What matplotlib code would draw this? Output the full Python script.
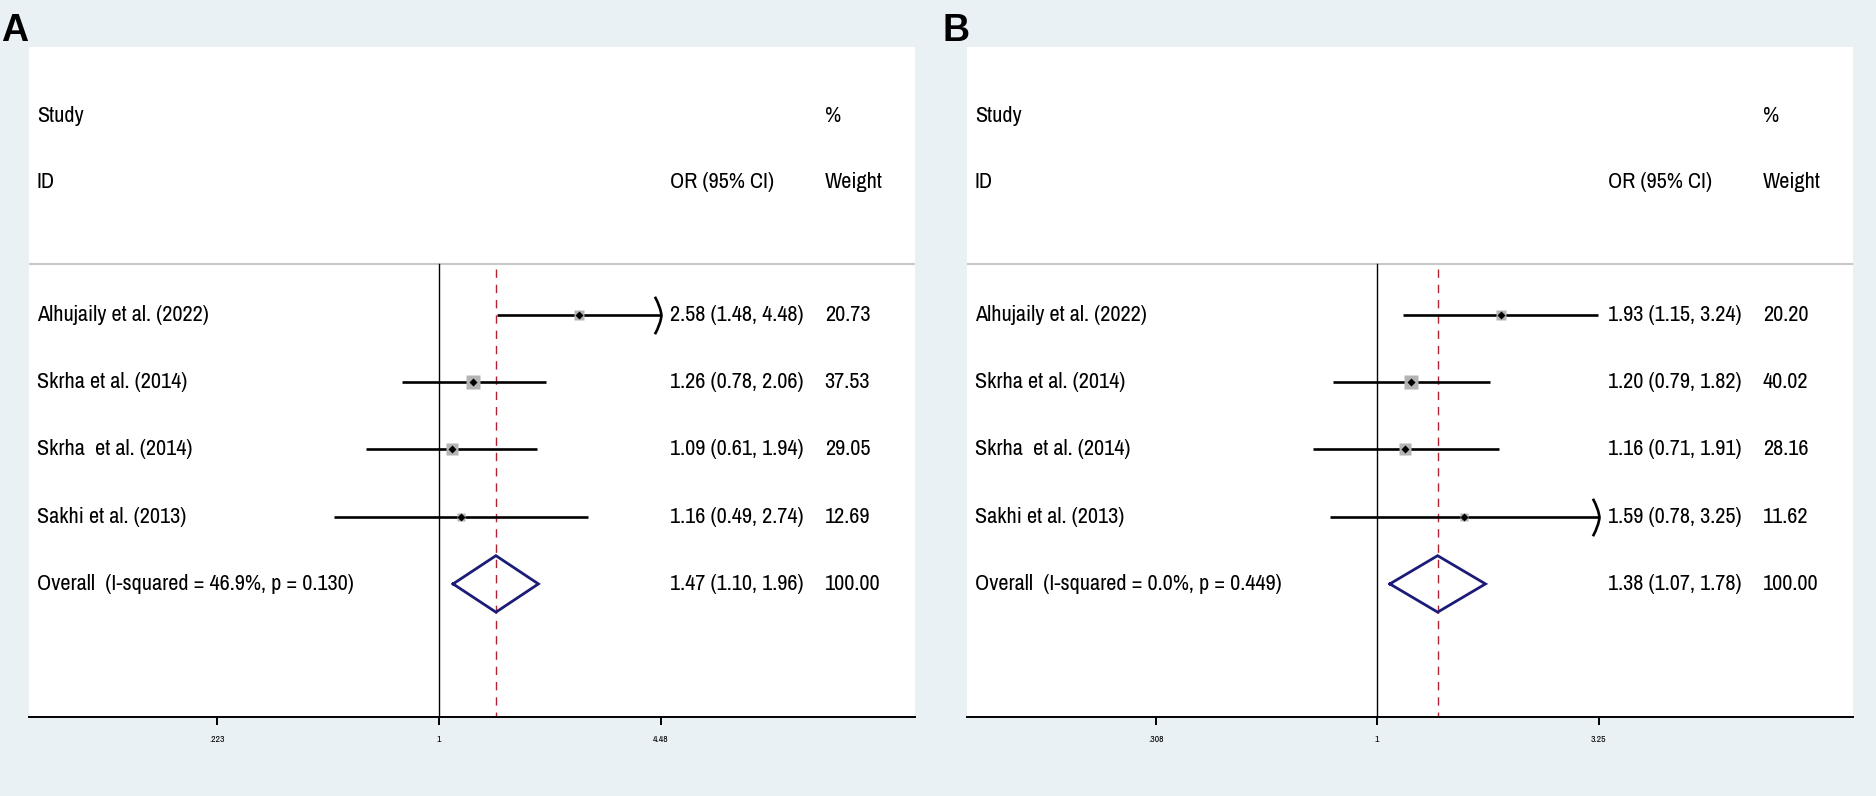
import numpy as np
import matplotlib
matplotlib.use("Agg")
import matplotlib.pyplot as plt
from matplotlib.path import Path

# ---------------- data ----------------
studies = ["Alhujaily et al. (2022)", "Skrha et al. (2014)", "Skrha  et al. (2014)", "Sakhi et al. (2013)"]

a_or = [2.58, 1.26, 1.09, 1.16]
a_lo = [1.48, 0.78, 0.61, 0.49]
a_hi = [4.48, 2.06, 1.94, 2.74]
a_w = [20.73, 37.53, 29.05, 12.69]
a_overall = (1.47, 1.10, 1.96)
a_overall_label = "Overall  (I-squared = 46.9%, p = 0.130)"
a_ticks = [0.223, 1, 4.48]
a_ticklabels = [".223", "1", "4.48"]

b_or = [1.93, 1.20, 1.16, 1.59]
b_lo = [1.15, 0.79, 0.71, 0.78]
b_hi = [3.24, 1.82, 1.91, 3.25]
b_w = [20.20, 40.02, 28.16, 11.62]
b_overall = (1.38, 1.07, 1.78)
b_overall_label = "Overall  (I-squared = 0.0%, p = 0.449)"
b_ticks = [0.308, 1, 3.25]
b_ticklabels = [".308", "1", "3.25"]

BG = "#e9f1f4"
FONT = ["Archivo Narrow", "PT Sans Narrow", "Liberation Sans", "DejaVu Sans"]
plt.rcParams["font.family"] = FONT
FS = 16

fig = plt.figure(figsize=(18.76, 7.96), dpi=100, facecolor=BG)

# open curved arrow-head marker (tip at origin)
arrow_path = Path(
    [(-0.35, 1.0), (-0.05, 0.45), (0.0, 0.0), (-0.05, -0.45), (-0.35, -1.0)],
    [Path.MOVETO, Path.CURVE3, Path.CURVE3, Path.CURVE3, Path.CURVE3],
)

Y_BOTTOM, Y_TOP = 5.98, -3.99


def panel(rect, ors, los, his, ws, overall, overall_label, ticks, ticklabels,
          xlim, letter, letter_x):
    ax = fig.add_axes(rect)
    ax.set_facecolor("white")
    ax.set_xscale("log")
    ax.set_xlim(*xlim)
    ax.set_ylim(Y_BOTTOM, Y_TOP)
    for s in ["top", "left", "right"]:
        ax.spines[s].set_visible(False)
    ax.spines["bottom"].set_linewidth(1.4)
    ax.set_yticks([])
    ax.set_xticks(ticks)
    ax.set_xticklabels(ticklabels)
    ax.minorticks_off()
    ax.tick_params(axis="x", direction="out", length=6, width=1.4, pad=7,
                   labelsize=7)

    trans = ax.get_yaxis_transform()  # x axes fraction, y data
    lx, or_x, wx = 0.0087, 0.7235, 0.898
    ax.text(lx, -2.96, "Study", transform=trans, fontsize=FS, va="center", ha="left")
    ax.text(lx, -1.98, "ID", transform=trans, fontsize=FS, va="center", ha="left")
    ax.text(or_x, -1.98, "OR (95% CI)", transform=trans, fontsize=FS, va="center", ha="left")
    ax.text(wx, -2.96, "%", transform=trans, fontsize=FS, va="center", ha="left")
    ax.text(wx, -1.98, "Weight", transform=trans, fontsize=FS, va="center", ha="left")
    ax.axhline(-0.76, color="#c8c8c8", lw=1.5)

    # null line and overall dashed line
    ax.plot([1, 1], [-0.76, Y_BOTTOM], color="black", lw=1.0, zorder=2)
    ax.plot([overall[0], overall[0]], [-0.68, Y_BOTTOM], color="#b22234", lw=1.0,
            ls=(0, (6, 5)), zorder=2)

    for i, (o, lo, hi, w, name) in enumerate(zip(ors, los, his, ws, studies)):
        ax.plot([lo, hi], [i, i], color="black", lw=1.9, zorder=3,
                solid_capstyle="butt")
        if hi >= ticks[-1] - 1e-9:
            ax.plot([hi], [i], marker=arrow_path, ms=27, mfc="none", mec="black",
                    mew=1.9, zorder=4)
        ax.plot([o], [i], marker="s", ms=1.7 * np.sqrt(w), color="#b4b4b4",
                mec="none", zorder=4)
        ax.plot([o], [i], marker="D", ms=4.5, color="black", mec="none", zorder=5)
        ax.text(lx, i, name, transform=trans, fontsize=FS, va="center", ha="left")
        ax.text(or_x, i, f"{o:.2f} ({lo:.2f}, {hi:.2f})", transform=trans,
                fontsize=FS, va="center", ha="left")
        ax.text(wx, i, f"{w:.2f}", transform=trans, fontsize=FS, va="center",
                ha="left")

    # overall diamond
    k = len(ors)
    e, lo, hi = overall
    ax.plot([lo, e, hi, e, lo], [k, k - 0.42, k, k + 0.42, k], color="#1c1c78",
            lw=2.0, zorder=4, solid_joinstyle="miter")
    ax.text(lx, k, overall_label, transform=trans, fontsize=FS, va="center", ha="left")
    ax.text(or_x, k, f"{e:.2f} ({lo:.2f}, {hi:.2f})", transform=trans,
            fontsize=FS, va="center", ha="left")
    ax.text(wx, k, "100.00", transform=trans, fontsize=FS, va="center", ha="left")

    fig.text(letter_x, 0.948, letter, fontsize=27, fontweight="bold",
             family=["Liberation Sans", "DejaVu Sans"], va="baseline", ha="left")
    return ax


panel([0.01546, 0.0992, 0.4723, 0.8421], a_or, a_lo, a_hi, a_w, a_overall,
      a_overall_label, a_ticks, a_ticklabels,
      (np.exp(-2.776), np.exp(3.223)), "A", 0.0005)
panel([0.5155, 0.0992, 0.4723, 0.8421], b_or, b_lo, b_hi, b_w, b_overall,
      b_overall_label, b_ticks, b_ticklabels,
      (np.exp(-2.182), np.exp(2.533)), "B", 0.5026)

fig.savefig("out.png", dpi=100, facecolor=BG)
